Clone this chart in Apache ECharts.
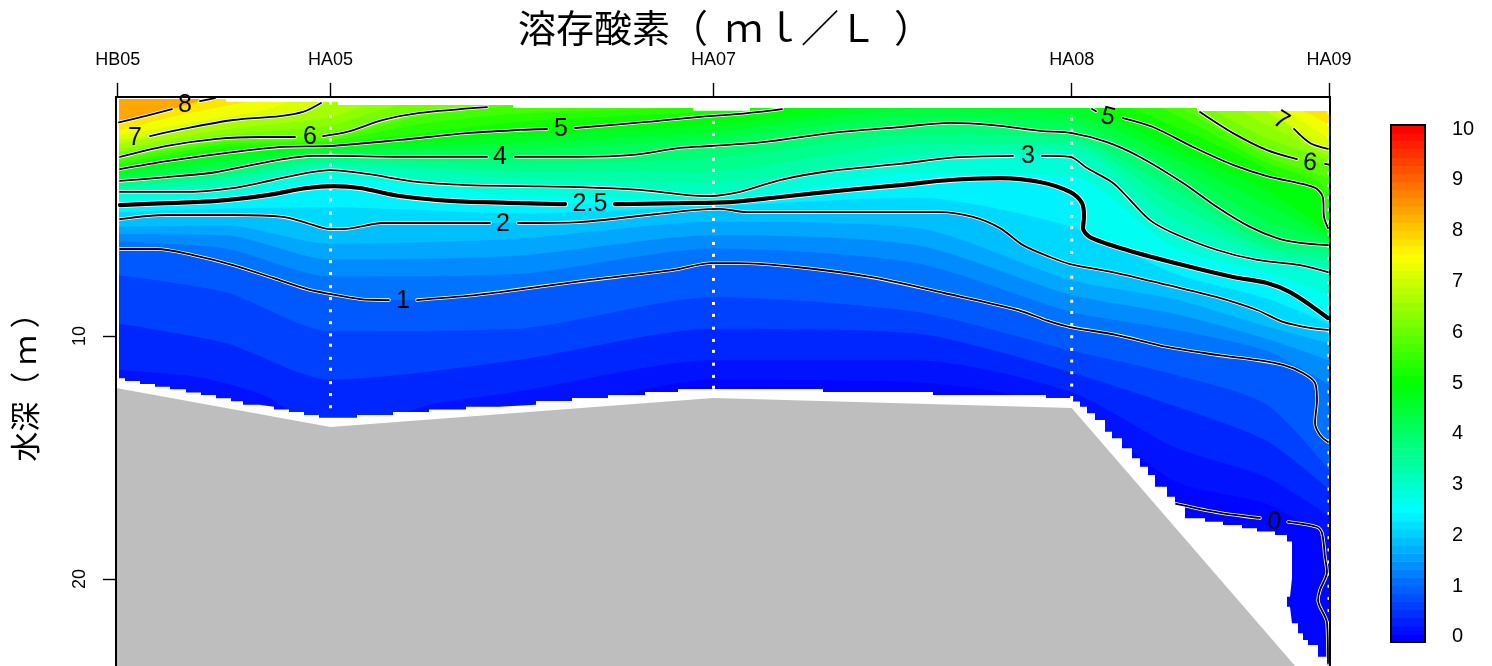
<!DOCTYPE html>
<html><head><meta charset="utf-8">
<style>html,body{margin:0;padding:0;background:#fff;overflow:hidden}#c{width:1492px;height:666px}</style>
<script src="https://cdn.jsdelivr.net/npm/echarts@6/dist/echarts.min.js"></script>
</head><body><div id="c"></div>
<script>
// along-section distance of the stations, depth in metres
const stationNames = ['HB05','HA05','HA07','HA08','HA09'];
const stationDist = [1.7, 214.5, 597.5, 955.7, 1213];

// contour lines: [distance, depth]; null = gap for the label
const c8 = [[3,1.21],[29,.95],[56,.66],null,[84,.33],[99,.21]];
const c7 = [[34,1.77],[67,1.48],[117,1.11],[164,.95],[187,.78],[205,.41],null,[1155,.78],null,[1178,1.48],[1194,2.06],[1212,2.30]];
const c6 = [[4,2.63],[51,2.18],[101,1.89],[144,1.81],[179,1.81],null,[207,1.77],[231,1.60],[267,1.11],[304,.82],[371,.58],null,[1084,.78],[1117,1.65],[1151,2.35],[1181,2.72],null,[1209,2.92],[1213,2.95]];
const c5 = [[4,3.13],[51,2.80],[117,2.43],[167,2.22],[214,2.18],[284,1.93],[351,1.65],[404,1.52],[431,1.48],null,[459,1.44],[531,1.19],[581,.99],[624,.86],[666,.66],null,[976,.66],[980,.75],null,[1007,1.03],[1037,1.40],[1077,2.22],[1117,2.96],[1151,3.42],[1191,3.79],[1201,3.95],[1207,4.32],[1208,5.10],[1212,5.56]];
const c4 = [[4,3.62],[51,3.46],[101,3.25],[151,2.84],[197,2.59],[217,2.59],[284,2.63],[371,2.63],null,[399,2.63],[464,2.63],[517,2.55],[564,2.26],[594,2.18],[647,2.02],[714,1.65],[784,1.40],[834,1.23],[877,1.32],[924,1.56],[956,1.65],[991,2.02],[1024,2.63],[1067,3.70],[1101,4.69],[1134,5.51],[1161,5.97],[1184,6.17],[1212,6.26]];
const c3 = [[4,4.07],[67,4.07],[117,3.91],[157,3.58],[191,3.29],[214,3.17],[251,3.33],[301,3.66],[351,3.79],[404,3.83],[464,3.87],[524,3.99],[571,4.20],[594,4.24],[624,4.07],[664,3.58],[714,3.21],[784,2.92],[834,2.67],[897,2.59],null,[926,2.59],[954,2.63],[971,3.09],[997,3.70],[1014,4.40],[1034,5.23],[1057,5.76],[1101,6.46],[1141,6.87],[1184,7.08],[1212,7.37]];
const c25 = [[4,4.61],[51,4.53],[101,4.44],[151,4.20],[191,3.91],[217,3.83],[244,3.91],[284,4.24],[334,4.44],[404,4.53],[449,4.57],null,[499,4.57],[564,4.53],[614,4.49],[664,4.28],[731,3.99],[784,3.79],[834,3.58],[884,3.50],[924,3.66],[954,4.07],[966,4.53],[968,5.10],[967,5.56],[974,5.93],[1011,6.46],[1067,7.08],[1117,7.57],[1151,7.82],[1174,8.19],[1194,8.72],[1212,9.26]];
const c2 = [[4,5.19],[51,5.02],[117,5.02],[167,5.10],[191,5.35],[214,5.60],[227,5.60],[267,5.35],[317,5.35],[374,5.35],null,[402,5.35],[464,5.31],[531,5.02],[581,4.81],[604,4.77],[631,4.90],[697,4.90],[784,4.90],[824,4.90],[857,5.10],[884,5.56],[907,6.26],[934,6.75],[954,7.04],[1001,7.41],[1051,7.90],[1101,8.40],[1141,8.93],[1167,9.42],[1194,9.67],[1212,9.75]];
const c1 = [[4,6.42],[41,6.42],[77,6.67],[117,7.08],[157,7.61],[191,8.07],[214,8.27],[244,8.48],[273,8.52],null,[301,8.52],[351,8.35],[384,8.19],[458,7.78],[558,7.28],[595,7.00],[621,7.00],[680,7.16],[754,7.57],[828,8.23],[902,8.93],[932,9.38],[954,9.63],[1001,9.96],[1051,10.45],[1101,10.78],[1141,10.99],[1167,11.19],[1187,11.52],[1199,11.93],[1201,12.63],[1199,13.58],[1204,14.07],[1212,14.36]];
const c0 = [[1060,16.91],[1104,17.28],[1144,17.49],null,[1172,17.65],[1201,17.86],[1206,18.11],[1209,19.09],[1211,19.71],[1204,20.45],[1202,20.86],[1211,21.81],[1212,23.46]];

// colour steps between the contours, estimated from the colours of the picture
const i75 = [[3,1.55],[60,.95],[120,.45],[170,.16],[1140,.16],[1185,.7],[1213,1.3]];
const i725 = [[3,1.75],[100,1.05],[150,.7],[190,.16],[1145,.16],[1180,1.0],[1213,1.9]];
const i675 = [[3,2.1],[100,1.3],[180,.85],[230,.16],[1120,.16],[1160,1.0],[1213,2.45]];
const i65 = [[3,2.3],[100,1.55],[214,1.0],[250,.5],[300,.16],[1090,.16],[1150,1.3],[1213,2.6]];
const i625 = [[3,2.45],[110,1.7],[214,1.35],[260,.75],[330,.16],[1070,.16],[1110,1.0],[1150,1.85],[1213,2.75]];
const i575 = [[3,2.75],[110,2.0],[214,1.88],[300,1.0],[400,.5],[500,.16],[1030,.16],[1060,.5],[1150,2.6],[1213,3.5]];
const i55 = [[3,2.9],[110,2.1],[214,1.98],[300,1.3],[400,.85],[597,.55],[700,.16],[1010,.16],[1060,.9],[1150,2.85],[1200,3.6],[1213,4.2]];
const i525 = [[3,3.0],[110,2.25],[214,2.08],[400,1.2],[597,.75],[700,.3],[800,.16],[955,.16],[1000,.4],[1060,1.4],[1150,3.1],[1213,4.8]];
const i475 = [[3,3.25],[110,2.6],[214,2.28],[400,1.78],[597,1.3],[800,.45],[955,.5],[1060,2.35],[1150,4.0],[1213,5.75]];
const i45 = [[3,3.38],[110,2.8],[214,2.38],[400,2.05],[597,1.6],[800,.7],[955,.9],[1060,2.7],[1150,4.6],[1213,5.9]];
const i425 = [[3,3.5],[110,3.0],[214,2.48],[400,2.32],[597,1.88],[800,1.0],[955,1.25],[1060,3.1],[1150,5.25],[1213,6.1]];
const i375 = [[3,3.74],[110,3.38],[214,2.72],[400,2.9],[597,2.65],[800,1.7],[955,1.85],[1060,4.05],[1150,6.15],[1213,6.5]];
const i35 = [[3,3.85],[110,3.5],[214,2.85],[400,3.2],[597,3.2],[800,2.1],[955,2.1],[1060,4.6],[1150,6.4],[1213,6.8]];
const i325 = [[3,3.96],[110,3.7],[214,3.0],[400,3.5],[597,3.7],[800,2.5],[955,2.35],[1060,5.2],[1150,6.65],[1213,7.1]];
const i275 = [[3,4.35],[110,4.2],[214,3.5],[400,4.2],[597,4.38],[800,3.3],[955,3.4],[1060,6.4],[1150,7.35],[1213,8.3]];
const i225 = [[3,4.9],[110,4.75],[214,4.7],[400,4.95],[597,4.66],[800,4.3],[955,5.5],[1060,7.45],[1150,8.45],[1213,9.5]];
const i175 = [[3,5.5],[110,5.45],[214,6.2],[400,6.0],[597,5.3],[800,5.55],[955,7.7],[1060,8.5],[1150,9.6],[1213,10.3]];
const i15 = [[3,5.8],[110,5.85],[214,6.85],[400,6.7],[597,5.85],[800,6.25],[955,8.3],[1060,9.1],[1150,10.1],[1213,11]];
const i125 = [[3,6.1],[110,6.4],[214,7.55],[400,7.45],[597,6.4],[800,7.0],[955,9.0],[1060,9.75],[1150,10.6],[1213,12]];
const i075 = [[3,7.5],[110,8.2],[214,9.8],[400,9.7],[597,8.4],[800,9.0],[955,10.6],[1060,11.6],[1150,12.8],[1213,15.5]];
const i05 = [[3,9.5],[110,10.3],[214,11.8],[400,11],[597,9.7],[800,9.9],[955,11.5],[1060,12.9],[1150,14.3],[1213,16.3]];
const i025 = [[3,11.4],[84,11.7],[151,12.5],[214,14],[317,12.8],[400,12.3],[597,11],[800,11],[955,12.3],[1060,14.6],[1150,15.8],[1213,17.4]];
const i01 = [[3,15],[110,15],[214,15],[317,14],[400,13.5],[597,11.8],[800,11.9],[955,13],[1060,16],[1150,16.9],[1213,18.3]];

// where the contours leave the sampled field at its top
const top8 = [[110,.16],[1214,.16]];
const top7gap = [[215,.16],[1145,.16],[1170,1.2]];
const top6gap = [[385,.16],[1075,.16]];
const top5gap = [[680,.16],[960,.16]];

// limits of the sampled field
const fieldTop = [[0,.25],[110,.36],[222,.49],[397,.62],[577,.73],[634,.62],[1081,.74],[1214,.74]];
const fieldBottom = [[0,11.74],[9,11.85],[24,11.97],[39,12.09],[54,12.19],[70,12.32],[85,12.43],[100,12.56],[115,12.69],[127,12.83],[143,12.91],[158,13.02],[173,13.13],[188,13.25],[203,13.36],[241,13.25],[277,13.13],[313,13.02],[350,12.91],[383,12.83],[420,12.67],[456,12.55],[492,12.43],[529,12.30],[562,12.18],[707,12.30],[817,12.43],[930,12.55],[957,12.70],[964,12.91],[971,13.18],[979,13.46],[989,13.94],[996,14.21],[1006,14.62],[1016,15.03],[1024,15.38],[1032,15.72],[1039,16.2],[1051,16.61],[1059,16.95],[1069,17.5],[1089,17.64],[1107,17.78],[1126,17.91],[1141,18.05],[1159,18.19],[1171,18.46],[1176,18.81],[1176,19.97],[1174,19.97],[1174,20.73],[1171,20.73],[1171,21.14],[1174,21.14],[1176,21.82],[1182,22.23],[1187,22.51],[1192,22.72],[1202,23.2],[1211,23.54],[1214,23.6]];
const seabed = [[0,12.14],[214.5,13.74],[597.5,12.55],[955.7,12.96],[1213,25.19]];

// sample depths at the stations (white dots)
const samplesHA05 = [.41,.95,1.44,1.93,2.47,2.96,3.46,3.95,4.40,4.94,5.43,5.93,6.46,6.94,7.43,7.97,8.46,8.96,9.45,9.95,10.38,10.92,11.37,11.92,12.41,12.91];
const samplesHA07 = [1.21,1.70,2.21,2.72,3.18,3.67,4.17,4.65,5.2,5.67,6.19,6.68,7.15,7.67,8.16,8.66,9.15,9.68,10.18,10.63,11.16,11.66,12.11];
const samplesHA08 = [1.07,1.53,2.06,2.58,3.06,3.55,4.04,4.53,5.08,5.54,6.05,6.56,7.06,7.58,8.04,8.57,9.03,9.53,10.03,10.55,11.03,11.51,12.02,12.53];
const samplesHA09 = [.8,1.3,1.8,2.3,2.8,3.3,3.8,4.3,4.8,5.3,5.8,6.3,6.8,7.3,7.8,8.3,8.8,9.3,9.8,10.3,10.8,11.3,11.8,12.3,12.8,13.3,13.8,14.3,14.8,15.3,15.8,16.3,16.8,17.3,17.8,18.3,18.8,19.3,19.8,20.3,20.8,21.3,21.8,22.3,22.8,23.3,23.8];

// contour labels
const labelText = ['8','7','6','5','4','3','2.5','2','1','5','7','6','0'];
const labelDist = [69,19,194,445,384,912,474,387,287,992,1165,1194,1158];
const labelDepth = [.49,1.85,1.81,1.48,2.63,2.59,4.57,5.39,8.56,.99,1.15,2.88,17.65];
const labelTurn = [0,0,0,0,0,0,0,0,0,-14,-32,-5,-8];

const colorTicks = [0,1,2,3,4,5,6,7,8,9,10];
const colorStops = [[0,[0,0,255]],[2.5,[0,255,255]],[5,[0,255,0]],[7.5,[255,255,0]],[10,[255,0,0]]];

function colorAt(v){
  v = Math.max(0, Math.min(10, v));
  for (let i = 0; i < colorStops.length - 1; i++) {
    const a = colorStops[i], b = colorStops[i+1];
    if (v <= b[0]) {
      const t = (v - a[0]) / (b[0] - a[0]);
      return 'rgb(' + a[1].map((c, k) => Math.round(c + (b[1][k] - c) * t)).join(',') + ')';
    }
  }
  return 'rgb(255,0,0)';
}
const solid = a => a.filter(p => p);

// filled steps from the highest level down; each paints everything deeper than its line
const fillSteps = [
  [9, [[3,.16],[1213,.16]]],
  [8, solid(c8).concat(top8)],
  [7.5, i75],[7.25, i725],
  [7, [[3,1.93]].concat(solid(c7.slice(0,6)), top7gap, solid(c7.slice(9)))],
  [6.75, i675],[6.5, i65],[6.25, i625],
  [6, solid(c6.slice(0,11)).concat(top6gap, solid(c6.slice(12)))],
  [5.75, i575],[5.5, i55],[5.25, i525],
  [5, solid(c5.slice(0,15)).concat(top5gap, solid(c5.slice(16)))],
  [4.75, i475],[4.5, i45],[4.25, i425],[4, solid(c4)],[3.75, i375],[3.5, i35],[3.25, i325],[3, solid(c3)],[2.75, i275],[2.5, solid(c25)],[2.25, i225],
  [2, solid(c2)],[1.75, i175],[1.5, i15],[1.25, i125],[1, solid(c1)],
  [.75, i075],[.5, i05],[.25, i025],[.1, i01]
];

const series = [];
fillSteps.forEach((s, i) => {
  const next = i + 1 < fillSteps.length ? fillSteps[i+1][0] : 0;
  const col = i === 0 ? colorAt(8.35) : colorAt((s[0] + next) / 2);
  series.push({type:'line', xAxisIndex:0, yAxisIndex:0, data:s[1], smooth:.25, showSymbol:false, silent:true, animation:false,
    lineStyle:{width:0}, itemStyle:{color:col}, areaStyle:{color:col, opacity:1, origin:'end'}, z:2});
});
series.push({type:'line', data:fieldTop, step:'end', showSymbol:false, silent:true, animation:false, lineStyle:{width:0}, areaStyle:{color:'#fff', opacity:1, origin:'start'}, z:3});
series.push({type:'line', data:fieldBottom, step:'end', showSymbol:false, silent:true, animation:false, lineStyle:{width:0}, areaStyle:{color:'#fff', opacity:1, origin:'end'}, z:3});
series.push({type:'line', data:seabed, showSymbol:false, silent:true, animation:false, lineStyle:{width:0}, areaStyle:{color:'#BEBEBE', opacity:1, origin:'end'}, z:4});

const dots = [];
[[1,samplesHA05],[2,samplesHA07],[3,samplesHA08],[4,samplesHA09]].forEach(([k, list]) => list.forEach(d => dots.push([stationDist[k], d])));
series.push({type:'scatter', data:dots, symbol:'rect', symbolSize:3, silent:true, animation:false, itemStyle:{color:'#fff', opacity:1}, z:5});

[c8,c7,c6,c5,c4,c3,c25,c2,c1,c0].forEach(c => {
  const thick = c === c25;
  series.push({type:'line', data:c, smooth:.3, connectNulls:false, showSymbol:false, silent:true, animation:false,
    lineStyle:{color:'#fff', width:thick?5.8:3.4, cap:'round'}, z:6});
  series.push({type:'line', data:c, smooth:.3, connectNulls:false, showSymbol:false, silent:true, animation:false,
    lineStyle:{color:'#000', width:thick?4.2:1.8, cap:'round'}, z:7});
});
series.push({type:'scatter', symbolSize:0, silent:true, animation:false, z:8, itemStyle:{opacity:1},
  data: labelText.map((t, i) => ({value:[labelDist[i], labelDepth[i]], name:t,
    label:{show:true, position:'inside', formatter:t, rotate:labelTurn[i], fontFamily:'Liberation Sans', fontSize:25, color:'#000'}}))});

// colour bar
const colorBins = [];
for (let i = 0; i < 64; i++) colorBins.push([-0.1 + i * 10.18 / 64, -0.1 + (i + 1) * 10.18 / 64]);
series.push({type:'custom', xAxisIndex:1, yAxisIndex:1, silent:true, animation:false, data:colorBins, clip:true,
  renderItem:(p, api) => {
    const a = api.coord([0, api.value(0)]), b = api.coord([1, api.value(1)]);
    return {type:'rect', shape:{x:a[0], y:b[1], width:b[0]-a[0], height:a[1]-b[1]+.6},
      style:{fill:colorAt((api.value(0)+api.value(1))/2)}};
  }, encode:{x:[], y:[0,1]}});

const option = {
  backgroundColor:'#fff', animation:false,
  grid:[
    {left:116, top:96.9, width:1214, height:627.9, show:true, borderColor:'#000', borderWidth:2, backgroundColor:'transparent', z:10, outerBoundsMode:'none'},
    {left:1391, top:125, width:34, height:517, show:true, borderColor:'#000', borderWidth:2, backgroundColor:'transparent', z:10, outerBoundsMode:'none'}
  ],
  xAxis:[
    {type:'value', gridIndex:0, position:'top', min:0, max:1214, splitLine:{show:false},
     axisLine:{show:false},
     axisTick:{show:true, customValues:stationDist, length:14, lineStyle:{color:'#000', width:1.4}},
     axisLabel:{show:true, customValues:stationDist, margin:28, fontFamily:'Liberation Sans', fontSize:18, color:'#000',
       formatter:v => stationNames[stationDist.indexOf(v)] || ''}},
    {type:'value', gridIndex:1, min:0, max:1, show:false}
  ],
  yAxis:[
    {type:'value', gridIndex:0, inverse:true, min:.16, max:26, splitLine:{show:false},
     axisLine:{show:false},
     axisTick:{show:true, customValues:[10,20], length:13, lineStyle:{color:'#000', width:1.4}},
     axisLabel:{show:true, customValues:[10,20], rotate:90, margin:27, fontFamily:'Liberation Sans', fontSize:18, color:'#000'}},
    {type:'value', gridIndex:1, position:'right', min:-.1, max:10.08, splitLine:{show:false},
     axisLine:{show:false},
     axisTick:{show:true, customValues:colorTicks, length:13, lineStyle:{color:'#000', width:1.4}},
     axisLabel:{show:true, customValues:colorTicks, margin:27, fontFamily:'Liberation Sans', fontSize:20, color:'#000'}}
  ],
  graphic:[
    {type:'text', left:518, top:9, style:{text:'溶存酸素（  ｍｌ／Ｌ  ）', font:'38px "Noto Sans CJK JP"', fill:'#000'}},
    {type:'text', x:25, y:380, rotation:Math.PI/2, style:{text:'水深（ ｍ ）', font:'30px "Noto Sans CJK JP"', fill:'#000', align:'center', verticalAlign:'middle'}}
  ],
  series
};
echarts.init(document.getElementById('c'), null, {renderer:'canvas'}).setOption(option);
</script></body></html>
